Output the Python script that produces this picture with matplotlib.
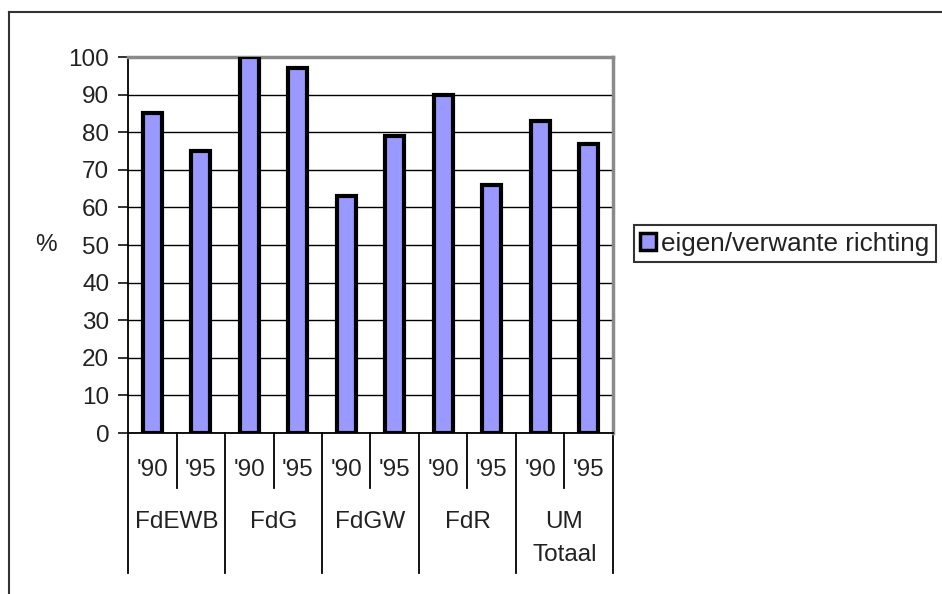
import numpy as np
import matplotlib.pyplot as plt
from matplotlib.patches import Patch
from matplotlib.lines import Line2D

plt.rcParams['font.family'] = ['Liberation Sans', 'DejaVu Sans']

# share of staff from own / related field, per faculty, 1990 vs 1995
groups = ['FdEWB', 'FdG', 'FdGW', 'FdR', 'UM\nTotaal']
years = ["'90", "'95"]
values = [85, 75, 100, 97, 63, 79, 90, 66, 83, 77]
series_name = 'eigen/verwante richting'

fs = 17.5
txt = '#222222'

fig = plt.figure(figsize=(9.42, 5.94), dpi=100)
ax = fig.add_axes([0.1359, 0.271, 0.5148, 0.633])

x = np.arange(len(values))
ax.bar(x, values, width=0.39, color='#9999ff', edgecolor='black', linewidth=3.0, zorder=3)

ax.set_xlim(-0.5, len(values) - 0.5)
ax.set_ylim(0, 100)
ax.set_yticks(range(0, 101, 10))
ax.yaxis.grid(True, color='black', linewidth=1.0, zorder=1)
ax.set_xticks([])
ax.tick_params(axis='y', direction='out', length=7.5, width=1.3, labelsize=fs, pad=6, colors=txt)
for s in ['top', 'right']:
    ax.spines[s].set_color('#8a8a8a')
    ax.spines[s].set_linewidth(2.5)
for s in ['left', 'bottom']:
    ax.spines[s].set_color('black')
    ax.spines[s].set_linewidth(1.3)

ax.text(-0.17, 0.5, '%', transform=ax.transAxes, fontsize=fs, ha='center', va='center',
        color=txt)

# two-level category axis below the plot
tr = ax.get_xaxis_transform()
for i in range(len(values)):
    ax.text(x[i], -0.098, years[i % 2], transform=tr, ha='center', va='center',
            fontsize=fs, color=txt)
    if i % 2 == 1:
        ax.add_line(Line2D([i - 0.5, i - 0.5], [0, -0.145], transform=tr, color='black',
                           linewidth=1.3, clip_on=False))
for g in range(len(groups) + 1):
    ax.add_line(Line2D([2 * g - 0.5, 2 * g - 0.5], [0, -0.372], transform=tr, color='black',
                       linewidth=1.3, clip_on=False))
for g, name in enumerate(groups):
    for k, part in enumerate(name.split('\n')):
        ax.text(2 * g + 0.5, -0.237 - 0.088 * k, part, transform=tr, ha='center', va='center',
                fontsize=fs, color=txt)

# outer chart frame
fig.add_artist(Line2D([0.0096, 0.0096], [0.0, 0.980], color='#333333', linewidth=1.5))
fig.add_artist(Line2D([0.0096, 1.0], [0.980, 0.980], color='#333333', linewidth=1.5))

handle = Patch(facecolor='#9999ff', edgecolor='black', linewidth=2.5)
leg = fig.legend([handle], [series_name], loc='center left', bbox_to_anchor=(0.673, 0.590),
                 fontsize=18.8, frameon=True, fancybox=False, handlelength=0.6, handleheight=0.6,
                 handletextpad=0.2, borderpad=0.25, borderaxespad=0)
leg.get_frame().set_edgecolor('black')
leg.get_frame().set_linewidth(1.5)
for t in leg.get_texts():
    t.set_color(txt)

fig.savefig('out.png', dpi=100)
